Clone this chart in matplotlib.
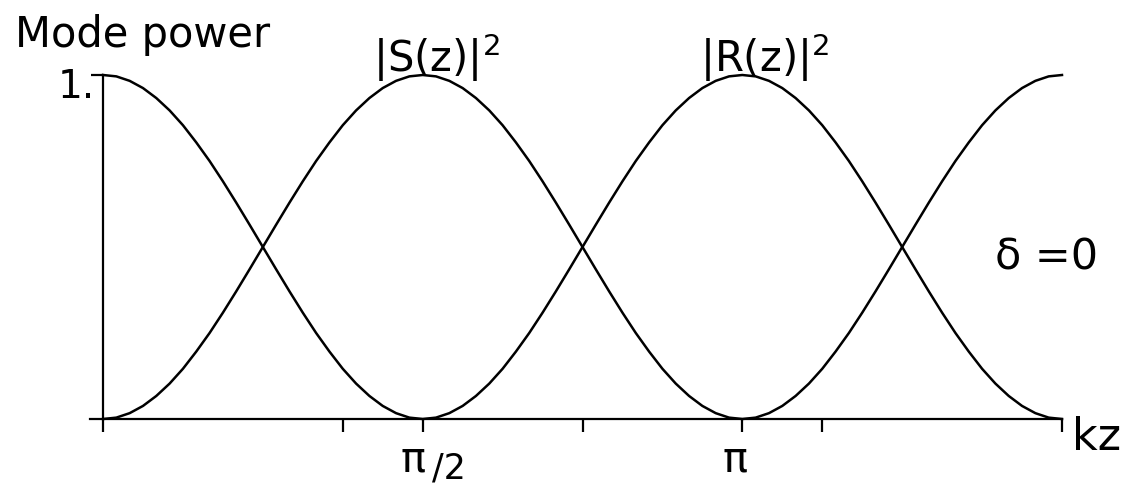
import numpy as np
import matplotlib
matplotlib.use("Agg")
import matplotlib.pyplot as plt

# kz sampled every pi/48 from 0 to 3*pi/2
kz = np.arange(73) * np.pi / 48

# |R(z)|^2 : starts at full power, dips at pi/2, back to 1 at pi, 0 at 3pi/2
R_power = [1.000, 0.996, 0.983, 0.962, 0.933, 0.897, 0.854, 0.804, 0.750, 0.691, 0.629, 0.565,
           0.500, 0.435, 0.371, 0.309, 0.250, 0.196, 0.146, 0.103, 0.067, 0.038, 0.017, 0.004,
           0.000, 0.004, 0.017, 0.038, 0.067, 0.103, 0.146, 0.196, 0.250, 0.309, 0.371, 0.435,
           0.500, 0.565, 0.629, 0.691, 0.750, 0.804, 0.854, 0.897, 0.933, 0.962, 0.983, 0.996,
           1.000, 0.996, 0.983, 0.962, 0.933, 0.897, 0.854, 0.804, 0.750, 0.691, 0.629, 0.565,
           0.500, 0.435, 0.371, 0.309, 0.250, 0.196, 0.146, 0.103, 0.067, 0.038, 0.017, 0.004,
           0.000]
# |S(z)|^2 : the complementary mode
S_power = [0.000, 0.004, 0.017, 0.038, 0.067, 0.103, 0.146, 0.196, 0.250, 0.309, 0.371, 0.435,
           0.500, 0.565, 0.629, 0.691, 0.750, 0.804, 0.854, 0.897, 0.933, 0.962, 0.983, 0.996,
           1.000, 0.996, 0.983, 0.962, 0.933, 0.897, 0.854, 0.804, 0.750, 0.691, 0.629, 0.565,
           0.500, 0.435, 0.371, 0.309, 0.250, 0.196, 0.146, 0.103, 0.067, 0.038, 0.017, 0.004,
           0.000, 0.004, 0.017, 0.038, 0.067, 0.103, 0.146, 0.196, 0.250, 0.309, 0.371, 0.435,
           0.500, 0.565, 0.629, 0.691, 0.750, 0.804, 0.854, 0.897, 0.933, 0.962, 0.983, 0.996,
           1.000]

x_ticks = [0, 3*np.pi/8, np.pi/2, 3*np.pi/4, np.pi, 9*np.pi/8, 3*np.pi/2]

W, H = 1135, 488
fig = plt.figure(figsize=(W/100, H/100), dpi=100)
ax = fig.add_axes([90/W, (H-419)/H, 972/W, 344/H])

ax.plot(kz, R_power, color="black", linewidth=1.8, clip_on=False)
ax.plot(kz, S_power, color="black", linewidth=1.8, clip_on=False)

ax.set_xlim(-0.064, 3*np.pi/2)
ax.set_ylim(0, 1)
for side in ["top", "right"]:
    ax.spines[side].set_visible(False)
ax.spines["left"].set_position(("data", 0))
ax.spines["left"].set_linewidth(1.6)
ax.spines["bottom"].set_linewidth(1.6)

ax.set_xticks(x_ticks)
ax.set_xticklabels([])
ax.set_yticks([1])
ax.set_yticklabels([])
ax.tick_params(direction="out", length=9, width=1.6)

def px(x, y, s, size, **kw):
    fig.text(x/W, 1 - y/H, s, fontsize=size, family="DejaVu Sans", **kw)

px(15, 47, "Mode power", 30, va="baseline")
px(58, 98, "1.", 28, va="baseline")
px(373, 72, r"|S(z)|$^{2}$", 30, va="baseline")
px(700, 72, r"|R(z)|$^{2}$", 30, va="baseline")
px(995, 270, "δ =0", 31, va="baseline")
px(1072, 450, "kz", 32, va="baseline")
px(400, 472, "π", 30, va="baseline")
px(432, 478, "/2", 25, va="baseline")
px(722, 472, "π", 30, va="baseline")

fig.savefig("out.png", dpi=100, facecolor="white")
